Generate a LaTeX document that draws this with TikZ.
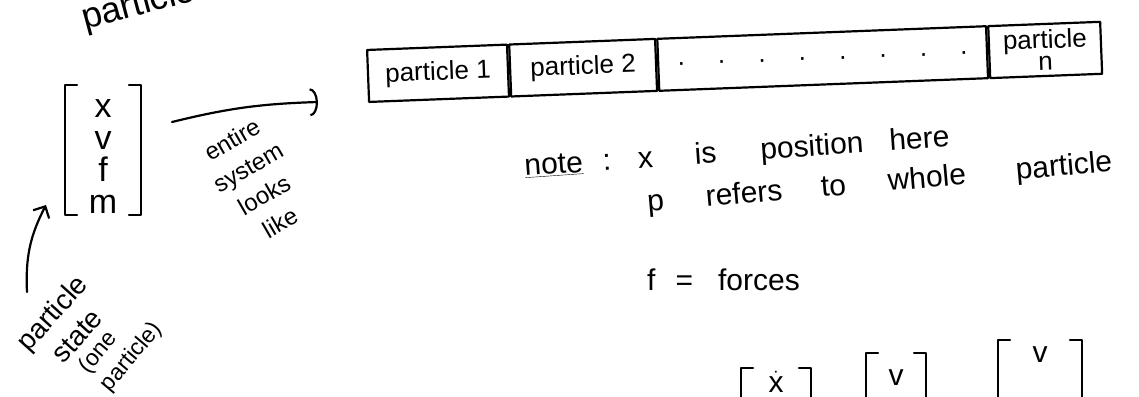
\documentclass[tikz,border=0pt]{standalone}
\usepackage{fontspec}
\setmainfont{Liberation Sans}
\usetikzlibrary{arrows.meta, positioning, calc}

% square brackets round a column: node, half width, top above centre, length
\newcommand{\colbracks}[4]{%
  \draw[ink] ([shift={(-#2+12pt,#3)}]#1.center) -- ++(-12pt,0) -- ++(0,-#4) -- ++(12pt,0);
  \draw[ink] ([shift={(#2-12pt,#3)}]#1.center) -- ++(12pt,0) -- ++(0,-#4) -- ++(-12pt,0);
}

\begin{document}
\begin{tikzpicture}[
  x=1pt, y=1pt,
  ink/.style={line width=2.2pt, line cap=round, line join=round},
  hand/.style 2 args={font=\fontsize{#1}{#2}\selectfont, inner sep=0pt},
  cell/.style={draw, ink, rotate=2.2, minimum height=52pt, inner sep=0pt, hand={26}{22}, align=center},
  sysarrow/.style={ink, -{Arc Barb[length=8pt, width=28pt]}},
  statearrow/.style={ink, -{Straight Barb[length=9pt, width=18pt]}},
]
\useasboundingbox (0,0) rectangle (1139,-396);
\clip (0,0) rectangle (1139,-396);

% heading, cut off by the page
\node[hand={36}{36}, rotate=15, anchor=base west] (head) at (85,-30) {particle};

% one particle
\node[hand={34}{32}, align=center] (pstate) at (103,-157) {x\\v\\f\\m};
\colbracks{pstate}{38pt}{72pt}{130pt}

\node[hand={28}{34}, rotate=48, align=center] (pslabel) at (64,-324) {particle\\state};
\node[hand={23}{28}, rotate=50, align=left] (psnote) at (121,-348) {(one\\particle)};
\coordinate (psfrom) at (27,-292);
\coordinate (psto) at (46,-205);
\draw[statearrow] (psfrom) to[bend left=15] (psto);

% whole system
\coordinate (sysfrom) at (172,-122);
\coordinate (systo) at (318,-102);
\draw[sysarrow] (sysfrom) to[bend left=6] (systo);
\node[hand={24}{32}, rotate=30, align=center] (syslabel) at (256,-181) {entire\\system\\looks\\like};

\node[cell, minimum width=140pt, anchor=west] (p1) at (367,-76) {particle 1};
\node[cell, minimum width=146pt, right=0pt of p1] (p2) {particle 2};
\node[cell, minimum width=329pt, right=0pt of p2] (pdots) {\makebox[290pt]{.\hfill.\hfill.\hfill.\hfill.\hfill.\hfill.\hfill.}};
\node[cell, minimum width=112pt, right=0pt of pdots] (pn) {particle\\n};

% note
\node[hand={30}{34}, rotate=4, anchor=base west] (note1) at (525,-176)
  {\underline{note}\hspace{20pt}:\hspace{27pt}x\hspace{42pt}is\hspace{44pt}position\hspace{26pt}here};
\node[hand={30}{34}, rotate=5, anchor=base west] (note2) at (648,-212)
  {p\hspace{42pt}refers\hspace{39pt}to\hspace{42pt}whole\hspace{50pt}particle};
\node[hand={30}{34}, anchor=base west] (note3) at (647,-290)
  {f\hspace{20pt}=\hspace{25pt}forces};

% derivative, cut off by the page
\node[hand={30}{30}] (xdot) at (776,-382) {$\dot{\mbox{x}}$};
\colbracks{xdot}{35pt}{14pt}{60pt}
\node[hand={30}{30}] (vel) at (896,-378) {v};
\colbracks{vel}{30pt}{25pt}{60pt}
\node[hand={30}{30}] (velb) at (1040,-355) {v};
\colbracks{velb}{42pt}{15pt}{80pt}
\end{tikzpicture}
\end{document}
